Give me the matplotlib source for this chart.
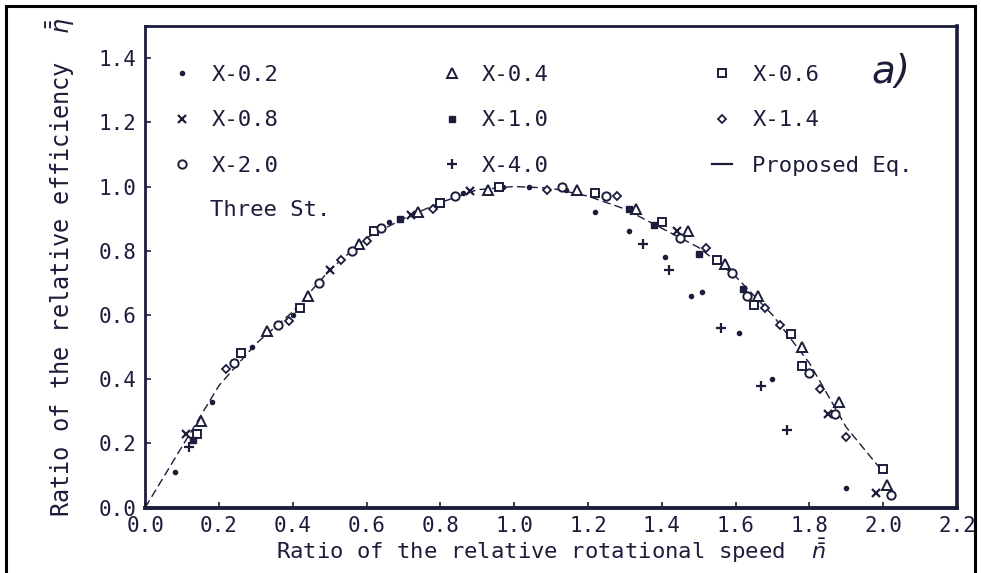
import matplotlib.pyplot as plt
from matplotlib.lines import Line2D
from matplotlib.patches import Rectangle

# values (relative speed n, relative efficiency eta)
x02_n = [0.08, 0.18, 0.29, 0.40, 0.66, 0.86, 0.97, 1.04, 1.14, 1.22, 1.31, 1.41, 1.48, 1.51, 1.61, 1.70, 1.90]
x02_e = [0.11, 0.33, 0.50, 0.60, 0.89, 0.98, 1.00, 1.00, 0.99, 0.92, 0.86, 0.78, 0.66, 0.67, 0.545, 0.40, 0.06]

x04_n = [0.15, 0.33, 0.44, 0.58, 0.74, 0.93, 1.17, 1.33, 1.47, 1.57, 1.66, 1.78, 1.88, 2.01]
x04_e = [0.27, 0.55, 0.66, 0.82, 0.92, 0.99, 0.99, 0.93, 0.86, 0.76, 0.66, 0.50, 0.33, 0.07]

x06_n = [0.14, 0.26, 0.42, 0.62, 0.80, 0.96, 1.22, 1.40, 1.55, 1.65, 1.75, 1.78, 2.00]
x06_e = [0.23, 0.48, 0.62, 0.86, 0.95, 1.00, 0.98, 0.89, 0.77, 0.63, 0.54, 0.44, 0.12]

x08_n = [0.11, 0.50, 0.72, 0.88, 1.44, 1.85, 1.98]
x08_e = [0.23, 0.74, 0.91, 0.985, 0.86, 0.29, 0.045]

x10_n = [0.13, 0.69, 1.31, 1.38, 1.50, 1.62]
x10_e = [0.21, 0.90, 0.93, 0.88, 0.79, 0.68]

x14_n = [0.22, 0.39, 0.53, 0.60, 0.78, 1.09, 1.28, 1.52, 1.68, 1.72, 1.83, 1.90]
x14_e = [0.43, 0.58, 0.77, 0.83, 0.93, 0.99, 0.97, 0.81, 0.62, 0.57, 0.37, 0.22]

x20_n = [0.24, 0.36, 0.47, 0.56, 0.64, 0.84, 1.13, 1.25, 1.45, 1.59, 1.63, 1.80, 1.87, 2.02]
x20_e = [0.45, 0.57, 0.70, 0.80, 0.87, 0.97, 1.00, 0.97, 0.84, 0.73, 0.66, 0.42, 0.29, 0.04]

x40_n = [0.12, 1.35, 1.42, 1.56, 1.67, 1.74]
x40_e = [0.19, 0.82, 0.74, 0.56, 0.38, 0.24]

eq_n = [0.0, 0.1, 0.2, 0.3, 0.4, 0.5, 0.6, 0.7, 0.8, 0.9, 1.0, 1.1, 1.2, 1.3, 1.4, 1.5, 1.6, 1.7, 1.8, 1.9, 2.0]
eq_e = [0.0, 0.19, 0.38, 0.51, 0.61, 0.74, 0.84, 0.90, 0.95, 0.99, 1.0, 0.995, 0.97, 0.93, 0.87, 0.81, 0.72, 0.60, 0.45, 0.25, 0.11]

ink = '#1b1d3a'
plt.rcParams['font.family'] = ['DejaVu Sans Mono', 'DejaVu Sans']

fig = plt.figure(figsize=(9.81, 5.73), dpi=100)
ax = fig.add_axes([0.148, 0.1143, 0.8275, 0.8403])

ax.plot(eq_n, eq_e, color=ink, lw=1.0, dashes=(6, 3), zorder=1)

ms = 6
h02 = ax.plot(x02_n, x02_e, ls='none', marker='o', ms=3, color=ink, zorder=3)[0]
h04 = ax.plot(x04_n, x04_e, ls='none', marker='^', ms=ms + 1, mfc='white', mec=ink, mew=1.4, zorder=3)[0]
h06 = ax.plot(x06_n, x06_e, ls='none', marker='s', ms=ms, mfc='white', mec=ink, mew=1.4, zorder=3)[0]
h08 = ax.plot(x08_n, x08_e, ls='none', marker='x', ms=ms, color=ink, mew=1.6, zorder=3)[0]
h10 = ax.plot(x10_n, x10_e, ls='none', marker='s', ms=4.5, color=ink, zorder=3)[0]
h14 = ax.plot(x14_n, x14_e, ls='none', marker='D', ms=4, mfc='white', mec=ink, mew=1.3, zorder=3)[0]
h20 = ax.plot(x20_n, x20_e, ls='none', marker='o', ms=ms, mfc='white', mec=ink, mew=1.4, zorder=3)[0]
h40 = ax.plot(x40_n, x40_e, ls='none', marker='+', ms=ms + 1, color=ink, mew=1.6, zorder=3)[0]
heq = Line2D([], [], color=ink, lw=1.6)

# legend filled column by column: rows are (0.2,0.4,0.6) (0.8,1.0,1.4) (2.0,4.0,eq)
handles = [h02, h08, h20, h04, h10, h40, h06, h14, heq]
labels = ['X-0.2', 'X-0.8', 'X-2.0', 'X-0.4', 'X-1.0', 'X-4.0', 'X-0.6', 'X-1.4', 'Proposed Eq.']
ax.legend(handles, labels, ncol=3, frameon=False, loc='upper left',
          bbox_to_anchor=(0.022, 0.938), fontsize=16, labelcolor=ink,
          handlelength=0.9, handletextpad=0.9, columnspacing=7.35,
          labelspacing=1.15, markerscale=1.0, borderaxespad=0)

ax.text(0.08, 0.618, 'Three St.', transform=ax.transAxes, fontsize=16, color=ink, va='center')
ax.text(0.895, 0.905, 'a)', transform=ax.transAxes, fontsize=28, color=ink,
        style='italic', family='DejaVu Sans', va='center')

ax.set_xlim(0, 2.2)
ax.set_ylim(0, 1.5)
ax.set_xticks([0.0, 0.2, 0.4, 0.6, 0.8, 1.0, 1.2, 1.4, 1.6, 1.8, 2.0, 2.2])
ax.set_yticks([0.0, 0.2, 0.4, 0.6, 0.8, 1.0, 1.2, 1.4])
ax.xaxis.set_major_formatter(plt.FormatStrFormatter('%.1f'))
ax.yaxis.set_major_formatter(plt.FormatStrFormatter('%.1f'))
ax.tick_params(direction='in', length=4, width=1.2, colors=ink, labelsize=15, pad=6)
for s in ax.spines.values():
    s.set_color(ink)
    s.set_linewidth(2.0)
ax.spines['bottom'].set_linewidth(2.8)
ax.spines['right'].set_linewidth(2.6)

ax.set_xlabel(r'Ratio of the relative rotational speed  $\bar{\bar{n}}$', fontsize=16, color=ink, labelpad=0)
ax.set_ylabel(r'Ratio of the relative efficiency  $\bar{\bar{\eta}}$', fontsize=17, color=ink, labelpad=16)

# frame around the whole scan
fig.patches.append(Rectangle((6 / 981, -0.01), 969 / 981, 1.01 - 6 / 573, transform=fig.transFigure,
                             fill=False, ec='black', lw=2.2))

plt.savefig('out.png', dpi=100)
plt.close()
